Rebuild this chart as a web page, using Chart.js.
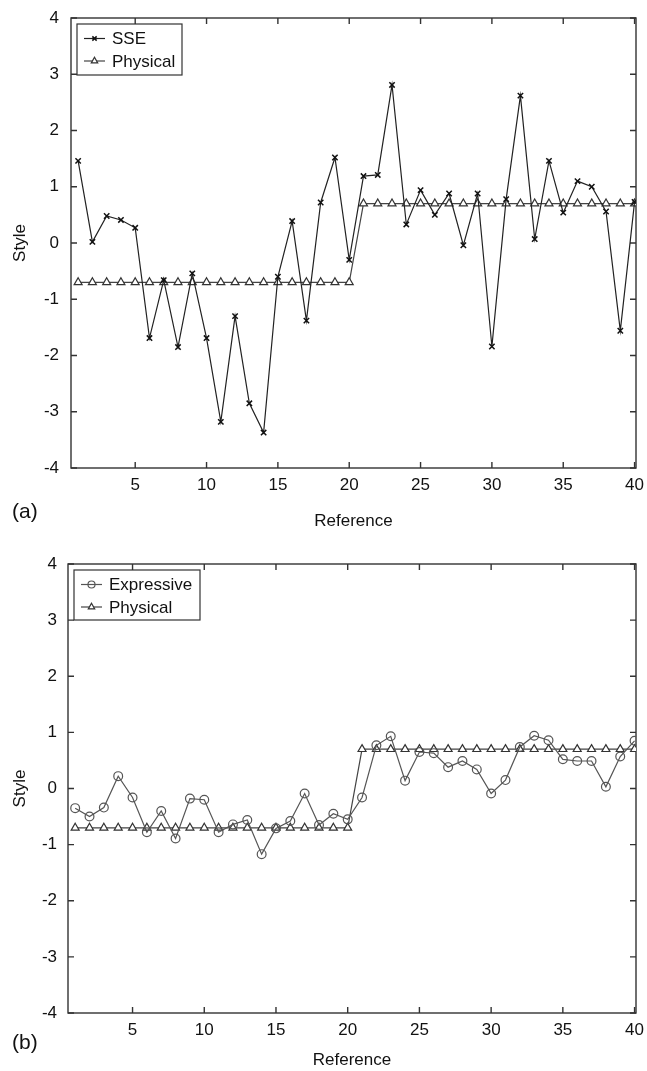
<!DOCTYPE html>
<html>
<head>
<meta charset="utf-8">
<title>Style vs Reference</title>
<script src="https://cdn.jsdelivr.net/npm/chart.js@4/dist/chart.umd.min.js"></script>
<style>
    body { margin: 0; background: #fff; }
    .panel { position: relative; width: 647px; }
    #panelA { height: 535px; }
    #panelB { height: 536px; }
</style>
</head>
<body>
<div class="panel" id="panelA"><canvas id="chartA"></canvas></div>
<div class="panel" id="panelB"><canvas id="chartB"></canvas></div>
<script>
// Chart data
const refs = [1, 2, 3, 4, 5, 6, 7, 8, 9, 10, 11, 12, 13, 14, 15, 16, 17, 18, 19, 20,
    21, 22, 23, 24, 25, 26, 27, 28, 29, 30, 31, 32, 33, 34, 35, 36, 37, 38, 39, 40];

const sseValues = [1.46, 0.02, 0.48, 0.41, 0.27, -1.69, -0.66, -1.85, -0.54, -1.69,
    -3.18, -1.30, -2.85, -3.37, -0.60, 0.39, -1.38, 0.72, 1.52, -0.30,
    1.19, 1.21, 2.81, 0.33, 0.94, 0.50, 0.88, -0.04, 0.88, -1.84,
    0.78, 2.62, 0.07, 1.46, 0.54, 1.10, 1.00, 0.56, -1.56, 0.73];

const expressiveValues = [-0.35, -0.50, -0.34, 0.22, -0.16, -0.78, -0.40, -0.89, -0.18, -0.20,
    -0.78, -0.64, -0.56, -1.17, -0.71, -0.58, -0.09, -0.65, -0.45, -0.55,
    -0.16, 0.77, 0.93, 0.14, 0.65, 0.63, 0.38, 0.49, 0.34, -0.09,
    0.15, 0.74, 0.94, 0.86, 0.52, 0.49, 0.49, 0.03, 0.57, 0.85];

const physicalValues = [-0.7, -0.7, -0.7, -0.7, -0.7, -0.7, -0.7, -0.7, -0.7, -0.7,
    -0.7, -0.7, -0.7, -0.7, -0.7, -0.7, -0.7, -0.7, -0.7, -0.7,
    0.7, 0.7, 0.7, 0.7, 0.7, 0.7, 0.7, 0.7, 0.7, 0.7,
    0.7, 0.7, 0.7, 0.7, 0.7, 0.7, 0.7, 0.7, 0.7, 0.7];

const xTickValues = [5, 10, 15, 20, 25, 30, 35, 40];
const yTickValues = [-4, -3, -2, -1, 0, 1, 2, 3, 4];

const FONT = '"Liberation Sans", Arial, Helvetica, sans-serif';
Chart.defaults.font.family = FONT;
Chart.defaults.font.size = 17;
Chart.defaults.color = '#111';

// Turn a value array into {x, y} points
function toPoints(values) {
    return values.map((v, i) => ({ x: refs[i], y: v }));
}

// Frame, inward ticks, legend box and panel letter
const framePlugin = {
    id: 'frame',
    beforeDatasetsDraw(chart) {
        const { ctx, chartArea: a, scales: { x, y } } = chart;
        ctx.save();
        ctx.strokeStyle = '#333';
        ctx.lineWidth = 1.4;
        ctx.strokeRect(a.left, a.top, a.right - a.left, a.bottom - a.top);
        ctx.beginPath();
        x.ticks.forEach(t => {
            const px = x.getPixelForValue(t.value);
            ctx.moveTo(px, a.bottom); ctx.lineTo(px, a.bottom - 6);
            ctx.moveTo(px, a.top); ctx.lineTo(px, a.top + 6);
        });
        y.ticks.forEach(t => {
            const py = y.getPixelForValue(t.value);
            ctx.moveTo(a.left, py); ctx.lineTo(a.left + 6, py);
            ctx.moveTo(a.right, py); ctx.lineTo(a.right - 6, py);
        });
        ctx.stroke();
        ctx.restore();
    },
    afterDraw(chart, args, opts) {
        const { ctx, chartArea: a } = chart;
        ctx.save();
        // legend box
        const bx = a.left + opts.boxInset;
        const by = a.top + opts.boxInset;
        ctx.fillStyle = '#fff';
        ctx.strokeStyle = '#333';
        ctx.lineWidth = 1.2;
        ctx.fillRect(bx, by, opts.boxWidth, opts.boxHeight);
        ctx.strokeRect(bx, by, opts.boxWidth, opts.boxHeight);
        ctx.font = '17px ' + FONT;
        ctx.textBaseline = 'middle';
        chart.data.datasets.forEach((ds, i) => {
            const rowY = by + 14.5 + i * 22.5;
            const x0 = bx + 7, x1 = bx + 28;
            ctx.strokeStyle = ds.borderColor;
            ctx.lineWidth = ds.borderWidth;
            ctx.beginPath();
            ctx.moveTo(x0, rowY); ctx.lineTo(x1, rowY);
            ctx.stroke();
            ctx.fillStyle = ds.pointBackgroundColor;
            ctx.strokeStyle = ds.pointBorderColor;
            ctx.lineWidth = ds.pointBorderWidth;
            Chart.helpers.drawPoint(ctx, {
                pointStyle: ds.pointStyle,
                radius: ds.pointRadius * 0.8,
                rotation: 0,
                borderWidth: ds.pointBorderWidth
            }, (x0 + x1) / 2, rowY);
            ctx.fillStyle = '#111';
            ctx.fillText(ds.label, bx + 35, rowY + 1);
        });
        // panel letter
        ctx.font = '21px ' + FONT;
        ctx.fillStyle = '#111';
        ctx.textBaseline = 'middle';
        ctx.fillText(opts.panelLabel, 12, opts.panelLabelY);
        ctx.restore();
    }
};

function makeChart(canvasId, datasets, geom) {
    const ctx = document.getElementById(canvasId).getContext('2d');
    return new Chart(ctx, {
        type: 'line',
        data: { datasets: datasets },
        options: {
            responsive: true,
            maintainAspectRatio: false,
            animation: false,
            layout: { padding: { top: geom.padTop, right: geom.padRight, left: 0, bottom: 0 } },
            plugins: {
                legend: { display: false },
                tooltip: { enabled: false },
                frame: geom.frame
            },
            scales: {
                x: {
                    type: 'linear',
                    min: 0.5,
                    max: 40.1,
                    grid: { display: false, drawTicks: false },
                    border: { display: false },
                    ticks: { padding: 7 },
                    afterBuildTicks: scale => { scale.ticks = xTickValues.map(v => ({ value: v })); },
                    afterFit: scale => {
                        scale.height = geom.xHeight;
                        scale.paddingLeft = 0;
                        scale.paddingRight = 0;
                    },
                    title: { display: true, text: 'Reference', padding: { top: 0, bottom: geom.xTitlePad } }
                },
                y: {
                    type: 'linear',
                    min: -4,
                    max: 4,
                    grid: { display: false, drawTicks: false },
                    border: { display: false },
                    ticks: { padding: geom.yTickPad },
                    afterBuildTicks: scale => { scale.ticks = yTickValues.map(v => ({ value: v })); },
                    afterFit: scale => {
                        scale.width = geom.yWidth;
                        scale.paddingTop = 0;
                        scale.paddingBottom = 0;
                    },
                    title: { display: true, text: 'Style', padding: { top: 10, bottom: 0 } }
                }
            }
        },
        plugins: [framePlugin]
    });
}

const physicalStyle = {
    label: 'Physical',
    borderColor: '#444',
    borderWidth: 1.2,
    pointStyle: 'triangle',
    pointRadius: 4.6,
    pointBackgroundColor: '#fff',
    pointBorderColor: '#333',
    pointBorderWidth: 1.2,
    tension: 0
};

// Panel (a): SSE vs Physical
makeChart('chartA', [
    {
        label: 'SSE',
        data: toPoints(sseValues),
        borderColor: '#222',
        borderWidth: 1.2,
        pointStyle: 'crossRot',
        pointRadius: 3.8,
        pointBackgroundColor: '#111',
        pointBorderColor: '#111',
        pointBorderWidth: 1.5,
        tension: 0
    },
    Object.assign({ data: toPoints(physicalValues) }, physicalStyle)
], {
    padTop: 18, padRight: 11, yWidth: 71, xHeight: 67, xTitlePad: 3, yTickPad: 12,
    frame: { boxInset: 6, boxWidth: 105, boxHeight: 51, panelLabel: '(a)', panelLabelY: 512 }
});

// Panel (b): Expressive vs Physical
makeChart('chartB', [
    {
        label: 'Expressive',
        data: toPoints(expressiveValues),
        borderColor: '#555',
        borderWidth: 1.2,
        pointStyle: 'circle',
        pointRadius: 4.4,
        pointBackgroundColor: 'rgba(255,255,255,0)',
        pointBorderColor: '#555',
        pointBorderWidth: 1.2,
        tension: 0
    },
    Object.assign({ data: toPoints(physicalValues) }, physicalStyle)
], {
    padTop: 29, padRight: 11, yWidth: 68, xHeight: 58, xTitlePad: 0, yTickPad: 11,
    frame: { boxInset: 6, boxWidth: 126, boxHeight: 50, panelLabel: '(b)', panelLabelY: 508 }
});
</script>
</body>
</html>
